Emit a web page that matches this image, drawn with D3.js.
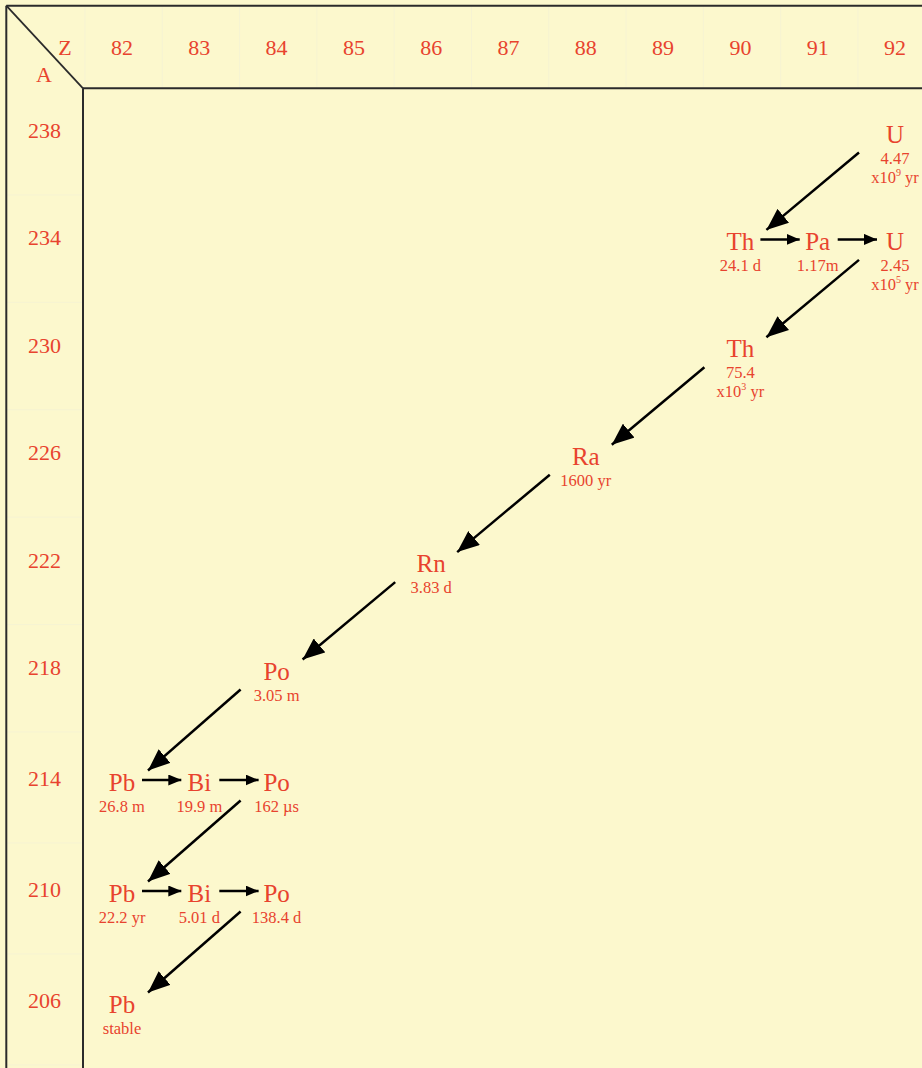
<!DOCTYPE html>
<html>
<head>
<meta charset="utf-8">
<script src="https://cdn.jsdelivr.net/npm/d3@7"></script>
<style>
html,body{margin:0;padding:0;background:#fcf8cd;}
svg{display:block;}
</style>
</head>
<body>
<svg id="chart" width="922" height="1068"></svg>
<script>
// ---- data ----
const protonTicks = [82, 83, 84, 85, 86, 87, 88, 89, 90, 91, 92];
const massTicks = [238, 234, 230, 226, 222, 218, 214, 210, 206];

const symbols        = ["U", "Th", "Pa", "U", "Th", "Ra", "Rn", "Po", "Pb", "Bi", "Po", "Pb", "Bi", "Po", "Pb"];
const protonNumbers  = [92, 90, 91, 92, 90, 88, 86, 84, 82, 83, 84, 82, 83, 84, 82];
const massNumbers    = [238, 234, 234, 234, 230, 226, 222, 218, 214, 214, 214, 210, 210, 210, 206];
const halfLives      = ["4.47", "24.1 d", "1.17m", "2.45", "75.4", "1600 yr", "3.83 d", "3.05 m",
                        "26.8 m", "19.9 m", "162 \u00b5s", "22.2 yr", "5.01 d", "138.4 d", "stable"];
const halfLifeExps   = [9, null, null, 5, 3, null, null, null, null, null, null, null, null, null, null];

// decays as [from, to] indexes into the nuclide arrays
const alphaDecays = [[0, 1], [3, 4], [4, 5], [5, 6], [6, 7], [7, 8], [10, 11], [13, 14]];
const betaDecays  = [[1, 2], [2, 3], [8, 9], [9, 10], [11, 12], [12, 13]];

// ---- drawing ----
const W = 922, H = 1068;
const red = "#e8432e";
const font = "'Liberation Serif','Times New Roman',serif";
const svg = d3.select("#chart");

svg.append("rect").attr("width", W).attr("height", H).attr("fill", "#fcf8cd");

const x = d3.scaleLinear().domain([82, 92]).range([122, 895]);
const y = d3.scaleLinear().domain([238, 218, 206]).range([138, 675, 1008]);

const leftX = 6.3, topY = 5.7, innerX = 83, innerY = 88.3;

// very faint cell lines
const faint = svg.append("g").attr("stroke", "#f6f3d2").attr("stroke-width", 1);
faint.selectAll("line.h").data(massTicks).join("line")
  .attr("x1", leftX).attr("x2", innerX)
  .attr("y1", d => y(d) + 57).attr("y2", d => y(d) + 57);
faint.selectAll("line.v").data(protonTicks).join("line")
  .attr("x1", d => x(d) - 37).attr("x2", d => x(d) - 37)
  .attr("y1", topY).attr("y2", innerY);

// borders
const border = svg.append("g").attr("stroke", "#2b2b2b").attr("stroke-width", 2).attr("fill", "none");
border.append("line").attr("x1", leftX).attr("x2", leftX).attr("y1", topY).attr("y2", H);
border.append("line").attr("x1", leftX).attr("x2", W).attr("y1", topY).attr("y2", topY);
border.append("line").attr("x1", innerX).attr("x2", innerX).attr("y1", innerY).attr("y2", H);
border.append("line").attr("x1", innerX).attr("x2", W).attr("y1", innerY).attr("y2", innerY);
border.append("line").attr("x1", leftX).attr("y1", topY).attr("x2", innerX).attr("y2", innerY)
  .attr("stroke-width", 1.8);

// axis labels
const labels = svg.append("g").attr("fill", red).attr("font-family", font)
  .attr("font-size", 22).attr("text-anchor", "middle");
labels.append("text").attr("x", 65).attr("y", 55).text("Z");
labels.append("text").attr("x", 44).attr("y", 82).text("A");
labels.selectAll("text.z").data(protonTicks).join("text").attr("class", "z")
  .attr("x", d => x(d)).attr("y", 55).text(d => d);
labels.selectAll("text.a").data(massTicks).join("text").attr("class", "a")
  .attr("x", 44.5).attr("y", d => y(d)).text(d => d);

// nuclides
const nuclides = symbols.map((s, i) => ({
  sym: s, z: protonNumbers[i], a: massNumbers[i], hl: halfLives[i], exp: halfLifeExps[i]
}));
const base = d => y(d.a) + 4.5;

// arrow markers
const defs = svg.append("defs");
defs.append("marker").attr("id", "bigHead").attr("markerUnits", "userSpaceOnUse")
  .attr("viewBox", "0 -9 22 18").attr("refX", 22).attr("refY", 0)
  .attr("markerWidth", 22).attr("markerHeight", 18).attr("orient", "auto")
  .append("path").attr("d", "M0,-9L22,0L0,9Z").attr("fill", "#000");
defs.append("marker").attr("id", "smallHead").attr("markerUnits", "userSpaceOnUse")
  .attr("viewBox", "0 -5.5 13 11").attr("refX", 13).attr("refY", 0)
  .attr("markerWidth", 13).attr("markerHeight", 11).attr("orient", "auto")
  .append("path").attr("d", "M0,-5.5L13,0L0,5.5Z").attr("fill", "#000");

const arrows = svg.append("g").attr("stroke", "#000").attr("stroke-width", 2.5).attr("fill", "none");
arrows.selectAll("line.alpha").data(alphaDecays).join("line").attr("class", "alpha")
  .attr("x1", d => x(nuclides[d[0]].z) - 36).attr("y1", d => base(nuclides[d[0]]) + 10)
  .attr("x2", d => x(nuclides[d[1]].z) + 26).attr("y2", d => base(nuclides[d[1]]) - 20)
  .attr("marker-end", "url(#bigHead)");
arrows.selectAll("line.beta").data(betaDecays).join("line").attr("class", "beta")
  .attr("x1", d => x(nuclides[d[0]].z) + 20).attr("y1", d => base(nuclides[d[0]]) - 10.5)
  .attr("x2", d => x(nuclides[d[1]].z) - 18).attr("y2", d => base(nuclides[d[1]]) - 10.5)
  .attr("marker-end", "url(#smallHead)");

// nuclide texts
const nodes = svg.append("g").attr("fill", red).attr("font-family", font).attr("text-anchor", "middle");
const g = nodes.selectAll("g").data(nuclides).join("g");
g.append("text").attr("x", d => x(d.z)).attr("y", base).attr("font-size", 25).text(d => d.sym);
g.append("text").attr("x", d => x(d.z)).attr("y", d => base(d) + 21)
  .attr("font-size", 16.5).text(d => d.hl);
const expLine = g.filter(d => d.exp !== null).append("text")
  .attr("x", d => x(d.z)).attr("y", d => base(d) + 40).attr("font-size", 16.5);
expLine.append("tspan").text("x10");
expLine.append("tspan").attr("font-size", 10).attr("dy", -7).text(d => d.exp);
expLine.append("tspan").attr("dy", 7).text(" yr");
</script>
</body>
</html>
